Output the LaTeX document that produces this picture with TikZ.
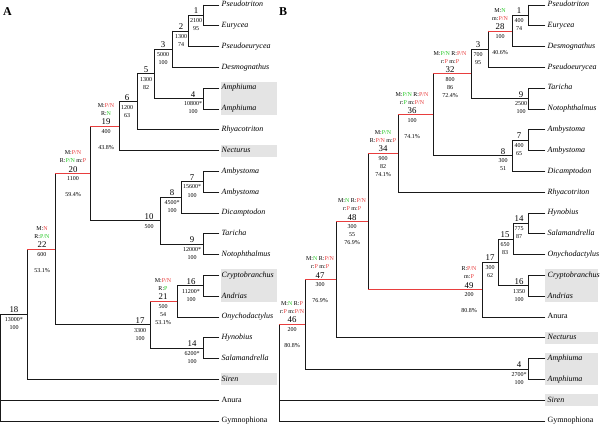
\documentclass[tikz,border=0pt]{standalone}
\usepackage{fontspec}
\setmainfont{Liberation Serif}
\definecolor{tred}{RGB}{232,62,62}
\definecolor{tgreen}{RGB}{40,200,40}
\definecolor{boxgray}{RGB}{228,228,228}
\newcommand\rd[1]{\textcolor{tred}{#1}}
\newcommand\gn[1]{\textcolor{tgreen}{#1}}
\newcommand\tbr[3]{\draw[#1] (#2 |- #3) -- (#3);}
\newcommand\tvb[3]{\draw[br] (#1 |- #2) -- (#1 |- #3);}
\newcommand\ndlab[9]{%
 \node[numf] (#1) at ({#2},{#3-1.5}) {#4};%
 \if\relax\detokenize{#5}\relax\else\node[valf] (#1a) at ({#2},{#3-18.8}) {#5};\fi
 \if\relax\detokenize{#6}\relax\else\node[valf] (#1b) at ({#2},{#3-10.8}) {#6};\fi
 \if\relax\detokenize{#7}\relax\else\node[valf] (#1c) at ({#2},{#3+7.2}) {#7};\fi
 \if\relax\detokenize{#8}\relax\else\node[valf] (#1d) at ({#2},{#3+15.2}) {#8};\fi
 \if\relax\detokenize{#9}\relax\else\node[valf] (#1e) at ({#2},{#3+23.2}) {#9};\fi
}
\begin{document}
\begin{tikzpicture}[x=1pt,y=-1pt,line cap=rect,
 br/.style={line width=0.9pt, draw=black!90},
 rb/.style={line width=0.9pt, draw=tred},
 taxon/.style={anchor=west, inner xsep=2.5pt, inner ysep=0pt, text height=5.2pt, text depth=1.6pt, font=\fontsize{8}{9}\selectfont\itshape},
 taxup/.style={taxon, font=\fontsize{8}{9}\selectfont},
 numf/.style={anchor=base, inner sep=0pt, font=\fontsize{8.8}{9}\selectfont},
 valf/.style={anchor=base, inner sep=0pt, font=\fontsize{6}{7}\selectfont},
 panel/.style={inner sep=0pt, font=\fontsize{12}{12}\selectfont\bfseries}]
\useasboundingbox (0,0) rectangle (600,425);
% grey boxes
\fill[boxgray] (221,82.2) rectangle (277,115);
\fill[boxgray] (221,144.6) rectangle (277,156.6);
\fill[boxgray] (221,269.4) rectangle (277,302.2);
\fill[boxgray] (221,373.4) rectangle (277,385.4);
\fill[boxgray] (545,269.4) rectangle (598,302.2);
\fill[boxgray] (545,331.8) rectangle (598,343.8);
\fill[boxgray] (545,352.6) rectangle (598,385.4);
\fill[boxgray] (545,394.2) rectangle (598,406.2);
% panel letters
\node[panel] (pA) at (7.5,12) {A};
\node[panel] (pB) at (283,12) {B};
% ---------- panel A leaves
\node[taxon] (aL1) at (219,5) {Pseudotriton};
\node[taxon] (aL2) at (219,25.8) {Eurycea};
\node[taxon] (aL3) at (219,46.6) {Pseudoeurycea};
\node[taxon] (aL4) at (219,67.4) {Desmognathus};
\node[taxon] (aL5) at (219,88.2) {Amphiuma};
\node[taxon] (aL6) at (219,109) {Amphiuma};
\node[taxon] (aL7) at (219,129.8) {Rhyacotriton};
\node[taxon] (aL8) at (219,150.6) {Necturus};
\node[taxon] (aL9) at (219,171.4) {Ambystoma};
\node[taxon] (aL10) at (219,192.2) {Ambystoma};
\node[taxon] (aL11) at (219,213) {Dicamptodon};
\node[taxon] (aL12) at (219,233.8) {Taricha};
\node[taxon] (aL13) at (219,254.6) {Notophthalmus};
\node[taxon] (aL14) at (219,275.4) {Cryptobranchus};
\node[taxon] (aL15) at (219,296.2) {Andrias};
\node[taxon] (aL16) at (219,317) {Onychodactylus};
\node[taxon] (aL17) at (219,337.8) {Hynobius};
\node[taxon] (aL18) at (219,358.6) {Salamandrella};
\node[taxon] (aL19) at (219,379.4) {Siren};
\node[taxup] (aL20) at (219,400.2) {Anura};
\node[taxup] (aL21) at (219,421) {Gymnophiona};
% panel A internal nodes
\coordinate (cA1) at (203,15.4);
\coordinate (cA2) at (188,31);
\coordinate (cA3) at (172,49.2);
\coordinate (cA4) at (203,98.6);
\coordinate (cA5) at (154,73.9);
\coordinate (cA6) at (137,101.85);
\coordinate (cA19) at (119,126.2);
\coordinate (cA7) at (203,181.8);
\coordinate (cA8) at (181,197.4);
\coordinate (cA9) at (203,244.2);
\coordinate (cA10) at (160,220.8);
\coordinate (cA20) at (90,173.5);
\coordinate (cA16) at (203,285.8);
\coordinate (cA21) at (177,301.4);
\coordinate (cA14) at (203,348.2);
\coordinate (cA17) at (150,324.8);
\coordinate (cA22) at (55,249.15);
\coordinate (cA18) at (27,314.3);
\coordinate (cA0) at (0.5,314.3);
% panel A branches
\tvb{cA1}{aL1}{aL2} \tbr{br}{cA1}{aL1} \tbr{br}{cA1}{aL2}
\tvb{cA2}{cA1}{aL3} \tbr{br}{cA2}{cA1} \tbr{br}{cA2}{aL3}
\tvb{cA3}{cA2}{aL4} \tbr{br}{cA3}{cA2} \tbr{br}{cA3}{aL4}
\tvb{cA4}{aL5}{aL6} \tbr{br}{cA4}{aL5} \tbr{br}{cA4}{aL6}
\tvb{cA5}{cA3}{cA4} \tbr{br}{cA5}{cA3} \tbr{br}{cA5}{cA4}
\tvb{cA6}{cA5}{aL7} \tbr{br}{cA6}{cA5} \tbr{br}{cA6}{aL7}
\tvb{cA19}{cA6}{aL8} \tbr{br}{cA19}{cA6} \tbr{br}{cA19}{aL8}
\tvb{cA7}{aL9}{aL10} \tbr{br}{cA7}{aL9} \tbr{br}{cA7}{aL10}
\tvb{cA8}{cA7}{aL11} \tbr{br}{cA8}{cA7} \tbr{br}{cA8}{aL11}
\tvb{cA9}{aL12}{aL13} \tbr{br}{cA9}{aL12} \tbr{br}{cA9}{aL13}
\tvb{cA10}{cA8}{cA9} \tbr{br}{cA10}{cA8} \tbr{br}{cA10}{cA9}
\tvb{cA20}{cA19}{cA10} \tbr{br}{cA20}{cA10}
\tvb{cA16}{aL14}{aL15} \tbr{br}{cA16}{aL14} \tbr{br}{cA16}{aL15}
\tvb{cA21}{cA16}{aL16} \tbr{br}{cA21}{cA16} \tbr{br}{cA21}{aL16}
\tvb{cA14}{aL17}{aL18} \tbr{br}{cA14}{aL17} \tbr{br}{cA14}{aL18}
\tvb{cA17}{cA21}{cA14} \tbr{br}{cA17}{cA14}
\tvb{cA22}{cA20}{cA17} \tbr{br}{cA22}{cA17}
\tvb{cA18}{cA22}{aL19} \tbr{br}{cA18}{aL19}
\tvb{cA0}{cA18}{aL21} \tbr{br}{cA0}{cA18} \tbr{br}{cA0}{aL20} \tbr{br}{cA0}{aL21}
\tbr{rb}{cA20}{cA19} \tbr{rb}{cA22}{cA20} \tbr{rb}{cA18}{cA22} \tbr{rb}{cA17}{cA21}
% panel A labels
\ndlab{lA1}{196}{15.4}{1}{}{}{2100}{95}{}
\ndlab{lA2}{181}{31}{2}{}{}{1300}{74}{}
\ndlab{lA3}{163}{49.2}{3}{}{}{5000}{100}{}
\ndlab{lA4}{193}{98.6}{4}{}{}{10800*}{100}{}
\ndlab{lA5}{146}{73.9}{5}{}{}{1300}{82}{}
\ndlab{lA6}{127}{101.85}{6}{}{}{1200}{63}{}
\ndlab{lA19}{106}{126.2}{19}{M:\rd{P/N}}{R:\gn{N}}{400}{}{43.8\%}
\ndlab{lA20}{73}{173.5}{20}{M:\rd{P/N}}{R:\gn{P/N} m:\rd{P}}{1100}{}{59.4\%}
\ndlab{lA7}{192}{181.8}{7}{}{}{15600*}{100}{}
\ndlab{lA8}{172}{197.4}{8}{}{}{4500*}{100}{}
\ndlab{lA9}{192}{244.2}{9}{}{}{12000*}{100}{}
\ndlab{lA10}{149}{220.8}{10}{}{}{500}{}{}
\ndlab{lA16}{191}{285.8}{16}{}{}{11200*}{100}{}
\ndlab{lA21}{163}{301.4}{21}{M:\rd{P/N}}{R:\gn{P}}{500}{54}{53.1\%}
\ndlab{lA14}{192}{348.2}{14}{}{}{6200*}{100}{}
\ndlab{lA17}{140}{324.8}{17}{}{}{3300}{100}{}
\ndlab{lA22}{42}{249.15}{22}{M:\rd{N}}{R:\gn{P/N}}{600}{}{53.1\%}
\ndlab{lA18}{14}{314.3}{18}{}{}{13000*}{100}{}
% ---------- panel B leaves
\node[taxon] (bL1) at (545,5) {Pseudotriton};
\node[taxon] (bL2) at (545,25.8) {Eurycea};
\node[taxon] (bL3) at (545,46.6) {Desmognathus};
\node[taxon] (bL4) at (545,67.4) {Pseudoeurycea};
\node[taxon] (bL5) at (545,88.2) {Taricha};
\node[taxon] (bL6) at (545,109) {Notophthalmus};
\node[taxon] (bL7) at (545,129.8) {Ambystoma};
\node[taxon] (bL8) at (545,150.6) {Ambystoma};
\node[taxon] (bL9) at (545,171.4) {Dicamptodon};
\node[taxon] (bL10) at (545,192.2) {Rhyacotriton};
\node[taxon] (bL11) at (545,213) {Hynobius};
\node[taxon] (bL12) at (545,233.8) {Salamandrella};
\node[taxon] (bL13) at (545,254.6) {Onychodactylus};
\node[taxon] (bL14) at (545,275.4) {Cryptobranchus};
\node[taxon] (bL15) at (545,296.2) {Andrias};
\node[taxup] (bL16) at (545,317) {Anura};
\node[taxon] (bL17) at (545,337.8) {Necturus};
\node[taxon] (bL18) at (545,358.6) {Amphiuma};
\node[taxon] (bL19) at (545,379.4) {Amphiuma};
\node[taxon] (bL20) at (545,400.2) {Siren};
\node[taxup] (bL21) at (545,421) {Gymnophiona};
% panel B internal nodes
\coordinate (cB1) at (528,15.4);
\coordinate (cB28) at (512,31);
\coordinate (cB3) at (488,49.2);
\coordinate (cB9) at (528,98.6);
\coordinate (cB32) at (471,73.9);
\coordinate (cB7) at (528,140.2);
\coordinate (cB8) at (512,155.8);
\coordinate (cB36) at (433,114.85);
\coordinate (cB34) at (398,153.5);
\coordinate (cB14) at (528,223.4);
\coordinate (cB15) at (513,239);
\coordinate (cB16) at (528,285.8);
\coordinate (cB17) at (498,262.4);
\coordinate (cB49) at (482,289.7);
\coordinate (cB48) at (368,221.6);
\coordinate (cB47) at (336,279.7);
\coordinate (cB4) at (528,369);
\coordinate (cB46) at (305,324.35);
\coordinate (cB0) at (279,324.35);
% panel B branches
\tvb{cB1}{bL1}{bL2} \tbr{br}{cB1}{bL1} \tbr{br}{cB1}{bL2}
\tvb{cB28}{cB1}{bL3} \tbr{br}{cB28}{cB1} \tbr{br}{cB28}{bL3}
\tvb{cB3}{cB28}{bL4} \tbr{br}{cB3}{bL4}
\tvb{cB9}{bL5}{bL6} \tbr{br}{cB9}{bL5} \tbr{br}{cB9}{bL6}
\tvb{cB32}{cB3}{cB9} \tbr{br}{cB32}{cB3} \tbr{br}{cB32}{cB9}
\tvb{cB7}{bL7}{bL8} \tbr{br}{cB7}{bL7} \tbr{br}{cB7}{bL8}
\tvb{cB8}{cB7}{bL9} \tbr{br}{cB8}{cB7} \tbr{br}{cB8}{bL9}
\tvb{cB36}{cB32}{cB8} \tbr{br}{cB36}{cB8}
\tvb{cB34}{cB36}{bL10} \tbr{br}{cB34}{bL10}
\tvb{cB14}{bL11}{bL12} \tbr{br}{cB14}{bL11} \tbr{br}{cB14}{bL12}
\tvb{cB15}{cB14}{bL13} \tbr{br}{cB15}{cB14} \tbr{br}{cB15}{bL13}
\tvb{cB16}{bL14}{bL15} \tbr{br}{cB16}{bL14} \tbr{br}{cB16}{bL15}
\tvb{cB17}{cB15}{cB16} \tbr{br}{cB17}{cB15} \tbr{br}{cB17}{cB16}
\tvb{cB49}{cB17}{bL16} \tbr{br}{cB49}{cB17} \tbr{br}{cB49}{bL16}
\tvb{cB48}{cB34}{cB49}
\tvb{cB47}{cB48}{bL17} \tbr{br}{cB47}{bL17}
\tvb{cB4}{bL18}{bL19} \tbr{br}{cB4}{bL18} \tbr{br}{cB4}{bL19}
\tvb{cB46}{cB47}{cB4} \tbr{br}{cB46}{cB4}
\tvb{cB0}{cB46}{bL21} \tbr{br}{cB0}{bL20} \tbr{br}{cB0}{bL21}
\tbr{rb}{cB3}{cB28} \tbr{rb}{cB36}{cB32} \tbr{rb}{cB34}{cB36} \tbr{rb}{cB48}{cB34}
\tbr{rb}{cB48}{cB49} \tbr{rb}{cB47}{cB48} \tbr{rb}{cB46}{cB47} \tbr{rb}{cB0}{cB46}
% panel B labels
\ndlab{lB1}{519}{15.4}{1}{}{}{400}{74}{}
\ndlab{lB28}{500}{31}{28}{M:\gn{N}}{m:\rd{P/N}}{100}{}{40.6\%}
\ndlab{lB3}{478}{49.2}{3}{}{}{700}{95}{}
\ndlab{lB9}{521}{98.6}{9}{}{}{2500}{100}{}
\ndlab{lB32}{450}{73.9}{32}{M:\gn{P/N} R:\rd{P/N}}{r:\rd{P} m:\rd{P}}{800}{86}{72.4\%}
\ndlab{lB7}{519}{140.2}{7}{}{}{400}{65}{}
\ndlab{lB8}{503}{155.8}{8}{}{}{300}{51}{}
\ndlab{lB36}{412}{114.85}{36}{M:\gn{P/N} R:\rd{P/N}}{r:\gn{P} m:\rd{P/N}}{100}{}{74.1\%}
\ndlab{lB34}{383}{153.5}{34}{M:\gn{P/N}}{R:\rd{P/N} m:\rd{P}}{900}{82}{74.1\%}
\ndlab{lB48}{352}{221.6}{48}{M:\gn{N} R:\rd{P/N}}{r:\rd{P} m:\rd{P}}{300}{55}{76.9\%}
\ndlab{lB14}{519}{223.4}{14}{}{}{775}{87}{}
\ndlab{lB15}{505}{239}{15}{}{}{650}{83}{}
\ndlab{lB16}{519}{285.8}{16}{}{}{1350}{100}{}
\ndlab{lB17}{490}{262.4}{17}{}{}{300}{62}{}
\ndlab{lB49}{469}{289.7}{49}{R:\rd{P/N}}{m:\rd{P}}{200}{}{80.8\%}
\ndlab{lB47}{320}{279.7}{47}{M:\gn{N} R:\rd{P/N}}{r:\rd{P} m:\rd{P}}{300}{}{76.9\%}
\ndlab{lB46}{292}{324.35}{46}{M:\gn{N} R:\rd{P}}{r:\rd{P} m:\rd{P/N}}{200}{}{80.8\%}
\ndlab{lB4}{519}{369}{4}{}{}{2700*}{100}{}
\end{tikzpicture}
\end{document}
